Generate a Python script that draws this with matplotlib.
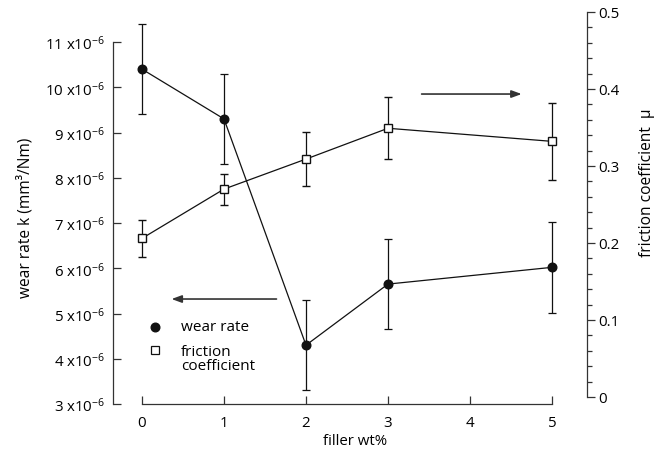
import numpy as np
import matplotlib
matplotlib.use('Agg')
import matplotlib.pyplot as plt
from matplotlib.lines import Line2D
from matplotlib.ticker import MultipleLocator, FixedLocator

plt.rcParams['font.family']= ['Open Sans', 'DejaVu Sans']
plt.rcParams['mathtext.fontset']= 'custom'
plt.rcParams['mathtext.rm']= 'Open Sans'
plt.rcParams['mathtext.default']= 'regular'

# filler content (wt%)
filler=		[0, 1, 2, 3, 5]
# wear rate k, in units of 1e-6 mm^3/Nm
wear=		[10.4, 9.3, 4.3, 5.65, 6.02]
wear_err=	[1.0, 1.0, 1.0, 1.0, 1.0]
# friction coefficient mu
friction=	[0.206, 0.270, 0.309, 0.349, 0.332]
friction_err=	[0.024, 0.020, 0.035, 0.040, 0.050]

wear_ticks=	[3, 4, 5, 6, 7, 8, 9, 10, 11]
mu_ticks=	[0, 0.1, 0.2, 0.3, 0.4, 0.5]
mu_labels=	['0', '0.1', '0.2', '0.3', '0.4', '0.5']

W, H= 668, 460
fig= plt.figure(figsize=(W/100, H/100), dpi=100)
# axes box in pixels: left 113, right 587, top 13, bottom 405
ax= fig.add_axes([113/W, (H-405)/H, (587-113)/W, (405-13)/H])
ax2= ax.twinx()

px_x= 82.0
ax.set_xlim(0-(142-113)/px_x, 5+(587-552)/px_x)
px_k= 45.25
ax.set_ylim(3, 11+(43-13)/px_k)
px_mu= 770.0
ax2.set_ylim(0-(405-398)/px_mu, 0.5)

lw= 0.9
col= '#111111'
ax.errorbar(filler, wear, yerr=wear_err, fmt='o-', color=col, ms=6.2, lw=lw,
	elinewidth=lw, capsize=2.6, capthick=lw, zorder=3)
ax2.errorbar(filler, friction, yerr=friction_err, fmt='s-', color=col, mfc='white',
	mec=col, mew=1.0, ms=6.3, lw=lw, elinewidth=lw, capsize=2.6, capthick=lw, zorder=3)

# spines: detached look
for s in ['top', 'right']:
	ax.spines[s].set_visible(False)
for s in ['top', 'left', 'bottom']:
	ax2.spines[s].set_visible(False)
for s in ax.spines.values():
	s.set_linewidth(0.9)
	s.set_color('#333333')
ax2.spines['right'].set_linewidth(0.9)
ax2.spines['right'].set_color('#333333')
ax.spines['left'].set_bounds(3, 11)
ax.spines['bottom'].set_bounds(0, 5)
ax2.spines['right'].set_bounds(0, 0.5)

fs= 10.8
ax.set_xticks(range(6))
ax.tick_params(axis='x', direction='in', length=6, width=0.9, pad=8, labelsize=fs, color='#333333')
ax.yaxis.set_major_locator(FixedLocator(wear_ticks))
ax.set_yticklabels([f'{v} x10$^{{-6}}$' for v in wear_ticks])
ax.tick_params(axis='y', direction='in', length=5.5, width=0.9, pad=6, labelsize=fs, color='#333333')

ax2.yaxis.set_major_locator(FixedLocator(mu_ticks))
ax2.set_yticklabels(mu_labels)
ax2.yaxis.set_minor_locator(MultipleLocator(0.02))
ax2.tick_params(axis='y', which='major', direction='out', length=6, width=0.9, pad=2, labelsize=fs, color='#333333')
ax2.tick_params(axis='y', which='minor', direction='out', length=3.5, width=0.9, color='#333333')

fig.text(355/W, 1-442/H, 'filler wt%', ha='center', va='center', fontsize=fs)
fig.text(25/W, 1-218/H, 'wear rate k (mm³/Nm)', ha='center', va='center', rotation=90, fontsize=11.2)
fig.text(647/W, 1-183/H, 'friction coefficient  μ', ha='center', va='center', rotation=90, fontsize=11.2)

# arrows pointing to the matching axis
arrow= dict(arrowstyle='-|>,head_length=0.6,head_width=0.22', color='#333333', lw=1.2, shrinkA=0, shrinkB=0)
ax.annotate('', xy=(4.63, 9.85), xytext=(3.41, 9.85), arrowprops=arrow)
ax.annotate('', xy=(0.36, 5.32), xytext=(1.64, 5.32), arrowprops=arrow)

# key, laid out by hand in figure pixels
def fpos(x, y):
	return x/W, 1-y/H
fig.add_artist(Line2D(*zip(fpos(155, 328)), ls='none', marker='o', color=col, ms=6.2))
fig.add_artist(Line2D(*zip(fpos(155, 351)), ls='none', marker='s', mfc='white', mec=col, mew=0.9, ms=5.8))
fig.text(*fpos(181, 328), 'wear rate', ha='left', va='center', fontsize=11)
fig.text(*fpos(181, 345), 'friction\ncoefficient', ha='left', va='top', fontsize=11, linespacing=0.95)

fig.savefig('out.png', dpi=100)
